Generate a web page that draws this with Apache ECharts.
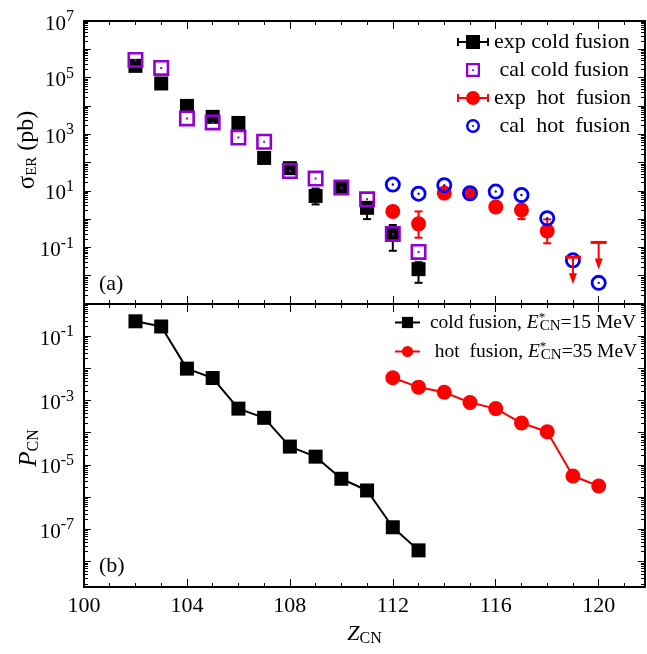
<!DOCTYPE html>
<html>
<head>
<meta charset="utf-8">
<script src="https://cdn.jsdelivr.net/npm/echarts@6/dist/echarts.min.js"></script>
<style>
html, body { margin: 0; padding: 0; background: #fff; }
#main { width: 647px; height: 654px; }
</style>
</head>
<body>
<div id="main"></div>
<script>
var FONT = '"Liberation Serif", "DejaVu Serif", serif';

// panel (a): sigma_ER in pb
var expColdZ = [102, 103, 104, 105, 106, 107, 108, 109, 110, 111, 112, 113];
var expColdSigma = [2.6e5, 6.2e4, 1.0e4, 4.1e3, 2.5e3, 145, 63, 6.6, 13, 2.5, 0.3, 0.017];
var expColdLow = [null, null, null, null, null, null, null, 3.3, null, 1.0, 0.076, 0.0056];
var expColdHigh = [null, null, null, null, null, null, null, 12, null, 4, 0.62, 0.03];

var calColdZ = [102, 103, 104, 105, 106, 107, 108, 109, 110, 111, 112, 113];
var calColdSigma = [4.2e5, 2.2e5, 3.6e3, 2.6e3, 760, 540, 50, 27, 13, 5.0, 0.3, 0.069];

var expHotZ = [112, 113, 114, 115, 116, 117, 118];
var expHotSigma = [1.87, 0.68, 8.3, 8.2, 2.7, 2.1, 0.38];
var expHotLow = [null, 0.22, null, null, null, 1.0, 0.14];
var expHotHigh = [null, 1.87, null, null, null, null, 0.98];

var limitHotZ = [119, 120];      // upper limits (arrows)
var limitHotSigma = [0.045, 0.15];

var calHotZ = [112, 113, 114, 115, 116, 117, 118, 119, 120];
var calHotSigma = [16.6, 7.9, 15.8, 8.2, 9.4, 7.1, 1.07, 0.035, 0.0056];

// panel (b): P_CN
var pcnColdZ = [102, 103, 104, 105, 106, 107, 108, 109, 110, 111, 112, 113];
var pcnCold = [0.29, 0.20, 0.0098, 0.005, 5.6e-4, 2.9e-4, 3.7e-5, 1.8e-5, 3.7e-6, 1.6e-6, 1.15e-7, 2.2e-8];
var pcnHotZ = [112, 113, 114, 115, 116, 117, 118, 119, 120];
var pcnHot = [5.1e-3, 2.6e-3, 1.8e-3, 8.7e-4, 5.6e-4, 2.0e-4, 1.07e-4, 4.5e-6, 2.2e-6];

var xTicks = [100, 104, 108, 112, 116, 120];

function pairs(xs, ys) {
	var out = [];
	for (var i = 0; i < xs.length; i++) out.push([xs[i], ys[i]]);
	return out;
}

function errPairs(xs, ys, lo, hi) { //只保留有误差棒的点
	var out = [];
	for (var i = 0; i < xs.length; i++) {
		if (lo[i] == null && hi[i] == null) continue;
		out.push([xs[i], lo[i] == null ? ys[i] : lo[i], hi[i] == null ? ys[i] : hi[i]]);
	}
	return out;
}

function errorBar(color, capW) {
	return function (params, api) {
		var x = api.value(0);
		var p1 = api.coord([x, api.value(1)]);
		var p2 = api.coord([x, api.value(2)]);
		var h = capW / 2;
		var st = { stroke: color, lineWidth: 2 };
		return {
			type: 'group',
			children: [
				{ type: 'line', shape: { x1: p1[0], y1: p1[1], x2: p2[0], y2: p2[1] }, style: st },
				{ type: 'line', shape: { x1: p1[0] - h, y1: p1[1], x2: p1[0] + h, y2: p1[1] }, style: st },
				{ type: 'line', shape: { x1: p2[0] - h, y1: p2[1], x2: p2[0] + h, y2: p2[1] }, style: st }
			]
		};
	};
}

function limitArrow(params, api) {
	var p = api.coord([api.value(0), api.value(1)]);
	var c = '#ff0000';
	return {
		type: 'group',
		children: [
			{ type: 'line', shape: { x1: p[0] - 8, y1: p[1], x2: p[0] + 8, y2: p[1] }, style: { stroke: c, lineWidth: 3 } },
			{ type: 'line', shape: { x1: p[0], y1: p[1], x2: p[0], y2: p[1] + 18 }, style: { stroke: c, lineWidth: 2 } },
			{ type: 'polygon', shape: { points: [[p[0] - 4, p[1] + 16], [p[0] + 4, p[1] + 16], [p[0], p[1] + 27]] }, style: { fill: c } }
		]
	};
}

function logLabel(skipExp) {
	return function (v) {
		var l = Math.log10(v);
		var e = Math.round(l);
		if (Math.abs(l - e) > 0.01 || e % 2 === 0 || e === skipExp) return '';
		return '{b|10}{s|' + e + '}';
	};
}

var labelRich = {
	b: { fontSize: 21, fontFamily: FONT, color: '#000', padding: [6, 0, 0, 0] },
	s: { fontSize: 16, fontFamily: FONT, color: '#000', padding: [0, 0, 8, 0] }
};

function xAxisPair(grid, pos, showLabels) {
	var major = {
		type: 'value', gridIndex: grid, position: pos, min: 100, max: 121.8, interval: 4,
		axisLine: { show: true, onZero: false, lineStyle: { color: '#000', width: 2 } },
		axisTick: { show: true, inside: true, length: 8, lineStyle: { color: '#000', width: 1 } },
		splitLine: { show: false },
		axisLabel: {
			show: showLabels, margin: 8, color: '#000', fontSize: 22, fontFamily: FONT,
			formatter: function (v) { return xTicks.indexOf(v) >= 0 ? String(v) : ''; }
		}
	};
	if (showLabels) {
		major.name = '{i|Z}{sb|CN}';
		major.nameLocation = 'middle';
		major.nameGap = 35;
		major.nameTextStyle = {
			rich: {
				i: { fontSize: 22, fontStyle: 'italic', fontFamily: FONT, color: '#000' },
				sb: { fontSize: 16, fontFamily: FONT, color: '#000', padding: [9, 0, 0, 0] }
			}
		};
	}
	var minor = {
		type: 'value', gridIndex: grid, position: pos, min: 100, max: 121.8, interval: 1,
		axisLine: { show: false, onZero: false },
		axisTick: { show: true, inside: true, length: 4, lineStyle: { color: '#000', width: 1 } },
		splitLine: { show: false },
		axisLabel: { show: false }
	};
	return [major, minor];
}

function yAxisDef(grid, pos, min, max, split, interval, skipExp) {
	var ax = {
		type: 'log', gridIndex: grid, position: pos, min: min, max: max, splitNumber: split, logBase: 10,
		axisLine: { show: true, onZero: false, lineStyle: { color: '#000', width: 2 } },
		axisTick: { show: true, inside: true, length: 7, lineStyle: { color: '#000', width: 1 } },
		minorTick: { show: true, splitNumber: 9, length: 4, lineStyle: { color: '#000', width: 1 } },
		splitLine: { show: false },
		minorSplitLine: { show: false },
		axisLabel: { show: pos === 'left', margin: 10, formatter: logLabel(skipExp), rich: labelRich }
	};
	if (interval) ax.interval = interval;
	return ax;
}

var xAxes = [].concat(
	xAxisPair(0, 'bottom', false),
	xAxisPair(0, 'top', false),
	xAxisPair(1, 'top', false),
	xAxisPair(1, 'bottom', true)
);

var yAxes = [
	yAxisDef(0, 'left', 1e-3, 1e7, 10, 1, -3),
	yAxisDef(0, 'right', 1e-3, 1e7, 10, 1, -3),
	yAxisDef(1, 'left', 1.6e-9, 1, 9, 0, 0),
	yAxisDef(1, 'right', 1.6e-9, 1, 9, 0, 0)
];

var SQ_RING = 'path://M0,0H16V16H0Z M2.6,2.6V13.4H13.4V2.6Z M7,7H9V9H7Z';
var CIRC_RING = 'path://M0,8A8,8 0 1,1 16,8A8,8 0 1,1 0,8Z M2.8,8A5.2,5.2 0 1,0 13.2,8A5.2,5.2 0 1,0 2.8,8Z M6.8,8A1.2,1.2 0 1,1 9.2,8A1.2,1.2 0 1,1 6.8,8Z';
var EXP_SQ_ICON = 'path://M0,3H2V6H9V0H23V6H30V3H32V11H30V8H23V14H9V8H2V11H0Z';
var EXP_CI_ICON = 'path://M0,3H2V6H30V3H32V11H30V8H2V11H0Z M9,7A7,7 0 1,1 23,7A7,7 0 1,1 9,7Z';

var legendNames = {
	'cold': ' cold fusion, {it|E}{sp|*}{sb|CN}=15 MeV',
	'hot': '  hot  fusion, {it|E}{sp|*}{sb|CN}=35 MeV'
};

var myChart = echarts.init(document.getElementById('main'), null, { renderer: 'canvas' });

var option = {
	animation: false,
	backgroundColor: '#fff',
	textStyle: { fontFamily: FONT },
	grid: [
		{ left: 84, right: 2, top: 21, height: 283, containLabel: false, outerBoundsMode: 'none' },
		{ left: 84, right: 2, top: 304, height: 283, containLabel: false, outerBoundsMode: 'none' }
	],
	xAxis: xAxes,
	yAxis: yAxes,
	legend: [
		{
			orient: 'vertical', left: 457, top: 31, padding: 0, itemGap: 6,
			itemWidth: 32, itemHeight: 14, selectedMode: false,
			textStyle: { fontSize: 22, fontFamily: FONT, color: '#000', lineHeight: 22 },
			data: [
				{ name: 'exp cold fusion', icon: EXP_SQ_ICON, itemStyle: { color: '#000' } },
				{ name: ' cal cold fusion', icon: SQ_RING },
				{ name: 'exp  hot  fusion', icon: EXP_CI_ICON, itemStyle: { color: '#ff0000' } },
				{ name: ' cal  hot  fusion', icon: CIRC_RING }
			]
		},
		{
			orient: 'vertical', left: 394, top: 311, padding: 0, itemGap: 6,
			itemWidth: 25, itemHeight: 14, selectedMode: false,
			data: ['cold', 'hot'],
			formatter: function (n) { return legendNames[n]; },
			textStyle: {
				fontSize: 19.5, fontFamily: FONT, color: '#000',
				rich: {
					it: { fontSize: 19.5, fontStyle: 'italic', fontFamily: FONT, color: '#000' },
					sp: { fontSize: 13, fontFamily: FONT, color: '#000', width: 1, padding: [0, 0, 10, 0] },
					sb: { fontSize: 15, fontFamily: FONT, color: '#000', padding: [8, 0, 0, 0] }
				}
			}
		}
	],
	graphic: [
		{ type: 'text', left: 99, top: 273, style: { text: '(a)', font: '22px ' + FONT, fill: '#000' } },
		{ type: 'text', left: 99, top: 555, style: { text: '(b)', font: '22px ' + FONT, fill: '#000' } },
		{
			type: 'text', x: 27, y: 150, rotation: Math.PI / 2,
			style: {
				text: '{g|σ}{sb|ER}{n| (pb)}', align: 'center', verticalAlign: 'middle',
				rich: {
					g: { fontSize: 25, fontFamily: FONT, fill: '#000' },
					sb: { fontSize: 15, fontFamily: FONT, fill: '#000', padding: [10, 0, 0, 0] },
					n: { fontSize: 24, fontFamily: FONT, fill: '#000' }
				}
			}
		},
		{
			type: 'text', x: 29, y: 448, rotation: Math.PI / 2,
			style: {
				text: '{i|P}{sb|CN}', align: 'center', verticalAlign: 'middle',
				rich: {
					i: { fontSize: 25, fontStyle: 'italic', fontFamily: FONT, fill: '#000' },
					sb: { fontSize: 16, fontFamily: FONT, fill: '#000', padding: [10, 0, 0, 0] }
				}
			}
		}
	],
	series: [
		{
			type: 'custom', xAxisIndex: 0, yAxisIndex: 0, silent: true, z: 2,
			renderItem: errorBar('#000', 8), encode: { x: 0, y: [1, 2] },
			data: errPairs(expColdZ, expColdSigma, expColdLow, expColdHigh)
		},
		{
			name: 'exp cold fusion', type: 'scatter', xAxisIndex: 0, yAxisIndex: 0, z: 3,
			symbol: 'rect', symbolSize: 14, itemStyle: { color: '#000', opacity: 1 },
			data: pairs(expColdZ, expColdSigma)
		},
		{
			name: ' cal cold fusion', type: 'scatter', xAxisIndex: 0, yAxisIndex: 0, z: 4,
			symbol: SQ_RING, symbolSize: 16, itemStyle: { color: '#9400d3', opacity: 1 },
			data: pairs(calColdZ, calColdSigma)
		},
		{
			type: 'custom', xAxisIndex: 0, yAxisIndex: 0, silent: true, z: 5,
			renderItem: errorBar('#ff0000', 8), encode: { x: 0, y: [1, 2] },
			data: errPairs(expHotZ, expHotSigma, expHotLow, expHotHigh)
		},
		{
			name: 'exp  hot  fusion', type: 'scatter', xAxisIndex: 0, yAxisIndex: 0, z: 6,
			symbol: 'circle', symbolSize: 15, itemStyle: { color: '#ff0000', opacity: 1 },
			data: pairs(expHotZ, expHotSigma)
		},
		{
			name: ' cal  hot  fusion', type: 'scatter', xAxisIndex: 0, yAxisIndex: 0, z: 7,
			symbol: CIRC_RING, symbolSize: 16, itemStyle: { color: '#0000ff', opacity: 1 },
			data: pairs(calHotZ, calHotSigma)
		},
		{
			type: 'custom', xAxisIndex: 0, yAxisIndex: 0, silent: true, z: 8,
			renderItem: limitArrow, encode: { x: 0, y: 1 },
			data: pairs(limitHotZ, limitHotSigma)
		},
		{
			name: 'cold', type: 'line', xAxisIndex: 6, yAxisIndex: 2,
			symbol: 'rect', symbolSize: 14, showAllSymbol: true,
			lineStyle: { color: '#000', width: 2 }, itemStyle: { color: '#000', opacity: 1 },
			data: pairs(pcnColdZ, pcnCold)
		},
		{
			name: 'hot', type: 'line', xAxisIndex: 6, yAxisIndex: 2,
			symbol: 'circle', symbolSize: 15, showAllSymbol: true,
			lineStyle: { color: '#ff0000', width: 2 }, itemStyle: { color: '#ff0000', opacity: 1 },
			data: pairs(pcnHotZ, pcnHot)
		}
	]
};

myChart.setOption(option);
</script>
</body>
</html>
